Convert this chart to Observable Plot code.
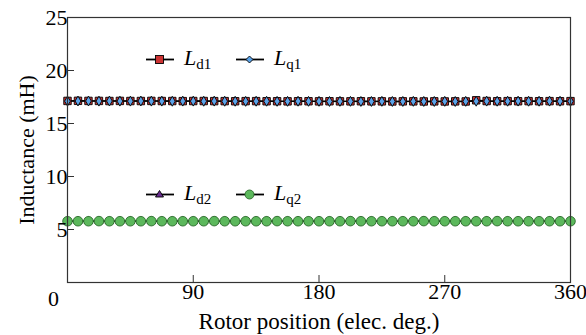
<!DOCTYPE html>
<html><head><meta charset="utf-8">
<script src="https://cdn.jsdelivr.net/npm/d3@7"></script>
<script src="https://cdn.jsdelivr.net/npm/@observablehq/plot@0.6"></script>
<style>
body{margin:0;background:#fff}
#wrap{position:relative;width:586px;height:335px;font-family:"Liberation Serif","Times New Roman",serif}
.leg{position:absolute;display:flex;align-items:center;font-size:22px;color:#000;white-space:nowrap}
.leg svg{display:block}
.leg i{font-style:italic}
.leg sub{font-size:15px;vertical-align:-4px}
</style></head>
<body><div id="wrap"></div>
<script>
const angles = [0,7.5,15,22.5,30,37.5,45,52.5,60,67.5,75,82.5,90,97.5,105,112.5,120,127.5,135,142.5,150,157.5,165,172.5,180,187.5,195,202.5,210,217.5,225,232.5,240,247.5,255,262.5,270,277.5,285,292.5,300,307.5,315,322.5,330,337.5,345,352.5,360];
const Ld1 = [17.13,17.14,17.13,17.13,17.12,17.13,17.12,17.12,17.13,17.12,17.12,17.11,17.12,17.12,17.11,17.11,17.10,17.11,17.11,17.10,17.10,17.09,17.10,17.10,17.09,17.10,17.09,17.09,17.10,17.09,17.09,17.08,17.09,17.09,17.08,17.09,17.08,17.09,17.08,17.19,17.12,17.10,17.11,17.10,17.11,17.10,17.11,17.10,17.11];
const Lq1 = [17.11,17.12,17.12,17.11,17.12,17.11,17.11,17.12,17.11,17.11,17.10,17.11,17.11,17.10,17.11,17.10,17.10,17.09,17.10,17.10,17.09,17.09,17.10,17.09,17.09,17.08,17.09,17.09,17.08,17.08,17.09,17.08,17.08,17.09,17.08,17.08,17.09,17.08,17.09,17.10,17.11,17.10,17.10,17.11,17.10,17.10,17.11,17.10,17.10];
const Ld2 = [5.77,5.77,5.78,5.77,5.77,5.77,5.78,5.77,5.77,5.77,5.77,5.78,5.77,5.77,5.77,5.77,5.78,5.77,5.77,5.77,5.77,5.77,5.78,5.77,5.77,5.77,5.77,5.77,5.78,5.77,5.77,5.77,5.77,5.77,5.78,5.77,5.77,5.77,5.77,5.77,5.78,5.77,5.77,5.77,5.77,5.77,5.78,5.77,5.77];
const Lq2 = [5.78,5.78,5.78,5.79,5.78,5.78,5.78,5.78,5.79,5.78,5.78,5.78,5.78,5.78,5.79,5.78,5.78,5.78,5.78,5.78,5.79,5.78,5.78,5.78,5.78,5.78,5.78,5.79,5.78,5.78,5.78,5.78,5.78,5.78,5.79,5.78,5.78,5.78,5.78,5.78,5.78,5.79,5.78,5.78,5.78,5.78,5.78,5.78,5.78];
const xTicks = [90,180,270,360];
const yTicks = [5,10,15,20,25];
const originLabel = ["0"];

const mk = (vals) => angles.map((a,i)=>({x:a, y:vals[i]}));
const d1 = mk(Ld1), q1 = mk(Lq1), d2 = mk(Ld2), q2 = mk(Lq2);

const series = [
  {name:"Ld1", data:d1, symbol:"square", fill:"#cc3333", r:4.2},
  {name:"Lq1", data:q1, symbol:"diamond", fill:"#5aa2e8", r:3.0},
  {name:"Ld2", data:d2, symbol:"triangle", fill:"#6a2c91", r:3.0},
  {name:"Lq2", data:q2, symbol:"circle", fill:"#5cb85c", r:4.8}
];

const marks = [];
for (const s of series) marks.push(Plot.line(s.data, {x:"x", y:"y", stroke:"#000", strokeWidth:1.4}));
for (const s of series) marks.push(Plot.dot(s.data, {x:"x", y:"y", symbol:()=>s.symbol, r:s.r, fill:s.fill, stroke: s.name==="Lq2" ? "#2e6b2e" : "#000", strokeWidth:0.9}));

const plot = Plot.plot({
  width:586, height:335,
  marginLeft:67, marginRight:16, marginTop:17, marginBottom:53,
  style:{fontFamily:'"Liberation Serif","Times New Roman",serif', fontSize:"22px", color:"#000", background:"#fff"},
  x:{domain:[0,360]},
  y:{domain:[0,25]},
  marks:[
    ...marks,
    Plot.frame({stroke:"#333", strokeWidth:1.2}),
    Plot.axisX(xTicks, {tickSize:-7, tickPadding:8, label:null, fontSize:22, stroke:"#333"}),
    Plot.axisY(yTicks, {tickSize:-7, tickPadding:7, label:null, fontSize:22, stroke:"#333"}),
    Plot.text(originLabel, {x:()=>0, y:()=>0, text:d=>d, dx:-14, dy:8, fontSize:22, lineAnchor:"top"}),
    Plot.text(["Rotor position (elec. deg.)"], {frameAnchor:"bottom", dy:46, text:d=>d, fontSize:23, lineAnchor:"bottom"}),
    Plot.text(["Inductance (mH)"], {frameAnchor:"left", dx:-41, rotate:-90, textAnchor:"middle", text:d=>d, fontSize:22})
  ]
});
const wrap = document.getElementById("wrap");
wrap.appendChild(plot);

function sample(symbol, fill, stroke){
  let shape = "";
  if (symbol==="square") shape = `<rect x="9.5" y="5.5" width="8" height="8" fill="${fill}" stroke="${stroke}" stroke-width="0.9"/>`;
  if (symbol==="diamond") shape = `<path d="M13.5,6L17,9.5L13.5,13L10,9.5Z" fill="${fill}" stroke="${stroke}" stroke-width="0.9"/>`;
  if (symbol==="triangle") shape = `<path d="M13.5,5.5L17.5,12L9.5,12Z" fill="${fill}" stroke="${stroke}" stroke-width="0.9"/>`;
  if (symbol==="circle") shape = `<circle cx="13.5" cy="9.5" r="4.5" fill="${fill}" stroke="${stroke}" stroke-width="0.9"/>`;
  return `<svg width="28" height="19"><line x1="0" x2="28" y1="9.5" y2="9.5" stroke="#000" stroke-width="1.8"/>${shape}</svg>`;
}
const legendItems = [
  {s:series[0], sub:"d1", left:146, top:45},
  {s:series[1], sub:"q1", left:236, top:45},
  {s:series[2], sub:"d2", left:146, top:180},
  {s:series[3], sub:"q2", left:236, top:180}
];
for (const it of legendItems){
  const div = document.createElement("div");
  div.className = "leg";
  div.style.left = it.left+"px"; div.style.top = it.top+"px";
  div.innerHTML = sample(it.s.symbol, it.s.fill, it.s.name==="Lq2" ? "#2e6b2e" : "#000") + `<span style="margin-left:10px"><i>L</i><sub>${it.sub}</sub></span>`;
  wrap.appendChild(div);
}
</script></body></html>
